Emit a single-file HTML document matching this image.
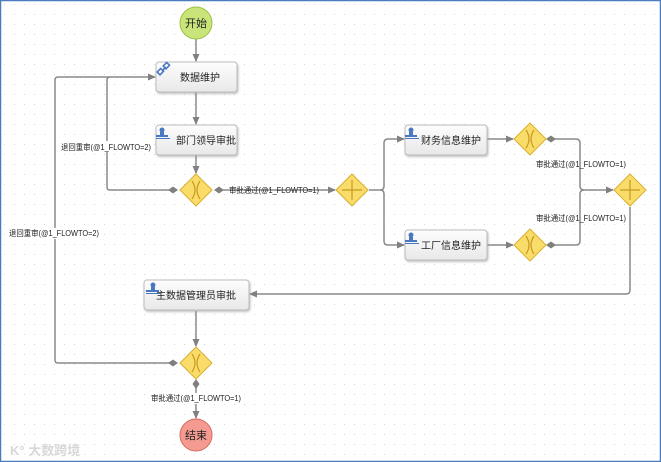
<!DOCTYPE html>
<html><head><meta charset="utf-8"><style>
html,body{margin:0;padding:0;}
body{width:661px;height:462px;overflow:hidden;background:#fff;font-family:"Liberation Sans","Noto Sans CJK SC",sans-serif;}
</style></head><body>
<svg width="661" height="462" xmlns="http://www.w3.org/2000/svg" style="display:block">
<defs>
<pattern id="dots" width="10" height="10" patternUnits="userSpaceOnUse"><rect x="4" y="4" width="1" height="1" fill="#d4d4d4"/></pattern>
<linearGradient id="box" x1="0" y1="0" x2="0" y2="1"><stop offset="0" stop-color="#fdfdfd"/><stop offset="1" stop-color="#e8e8e8"/></linearGradient>
<marker id="ar" markerWidth="8" markerHeight="8" refX="7" refY="4" orient="auto" markerUnits="userSpaceOnUse"><path d="M0,0.5 L8,4 L0,7.5z" fill="#808080"/></marker>
<filter id="sh" x="-10%" y="-10%" width="130%" height="140%"><feDropShadow dx="1" dy="1.5" stdDeviation="1" flood-color="#999" flood-opacity="0.6"/></filter>
</defs>
<rect width="661" height="462" fill="url(#dots)"/>
<rect x="0.5" y="0.5" width="660" height="461" fill="none" stroke="#4a7cc0" stroke-width="1.5"/>
<g fill="none" stroke="#8a8a8a" stroke-width="1.5">
<line x1="196" y1="39" x2="196" y2="61" marker-end="url(#ar)"/>
<line x1="196" y1="92" x2="196" y2="124" marker-end="url(#ar)"/>
<line x1="196" y1="155" x2="196" y2="173" marker-end="url(#ar)"/>
<path d="M174,190 H110 Q107,190 107,187 V80 Q107,77 110,77 H155" marker-end="url(#ar)"/>
<path d="M174,363 H58 Q55,363 55,360 V80 Q55,77 58,77 H110"/>
<line x1="218" y1="190" x2="335" y2="190" marker-end="url(#ar)"/>
<path d="M369,190 H380 Q384,190 384,186 V143 Q384,139 388,139 H404" marker-end="url(#ar)"/>
<path d="M380,190 Q384,190 384,194 V241 Q384,245 388,245 H404" marker-end="url(#ar)"/>
<line x1="487" y1="139" x2="513" y2="139" marker-end="url(#ar)"/>
<line x1="487" y1="245" x2="513" y2="245" marker-end="url(#ar)"/>
<path d="M552,139 H576 Q580,139 580,143 V186 Q580,190 584,190 H613" marker-end="url(#ar)"/>
<path d="M552,245 H576 Q580,245 580,241 V194 Q580,190 584,190"/>
<path d="M630,207 V290 Q630,294 626,294 H250" marker-end="url(#ar)"/>
<line x1="196" y1="311" x2="196" y2="346" marker-end="url(#ar)"/>
<line x1="196" y1="385" x2="196" y2="418" marker-end="url(#ar)"/>
</g>
<g fill="#808080">
<path d="M168,190 l5,-3.5 l5,3.5 l-5,3.5z"/>
<path d="M214,190 l5,-3.5 l5,3.5 l-5,3.5z"/>
<path d="M168,363 l5,-3.5 l5,3.5 l-5,3.5z"/>
<path d="M196,379 l3.5,5 l-3.5,5 l-3.5,-5z"/>
<path d="M546,139 l5,-3.5 l5,3.5 l-5,3.5z"/>
<path d="M546,245 l5,-3.5 l5,3.5 l-5,3.5z"/>
</g>
<g font-size="8" fill="#222">
<rect x="60" y="141" width="92" height="11" fill="#fff"/>
<text x="61" y="150" textLength="90" lengthAdjust="spacingAndGlyphs">退回重审(@1_FLOWTO=2)</text>
<rect x="8" y="228" width="92" height="11" fill="#fff"/>
<text x="9" y="236" textLength="90" lengthAdjust="spacingAndGlyphs">退回重审(@1_FLOWTO=2)</text>
<text x="229" y="193" textLength="90" lengthAdjust="spacingAndGlyphs">审批通过(@1_FLOWTO=1)</text>
<text x="536" y="167" textLength="90" lengthAdjust="spacingAndGlyphs">审批通过(@1_FLOWTO=1)</text>
<text x="536" y="221" textLength="90" lengthAdjust="spacingAndGlyphs">审批通过(@1_FLOWTO=1)</text>
<rect x="150" y="393" width="92" height="11" fill="#fff"/>
<text x="151" y="401" textLength="90" lengthAdjust="spacingAndGlyphs">审批通过(@1_FLOWTO=1)</text>
</g>
<circle cx="196" cy="23" r="16" fill="#c9e57a" stroke="#9cbf45"/>
<text x="196" y="27" font-size="11" text-anchor="middle" fill="#222">开始</text>
<circle cx="196" cy="435" r="16" fill="#f49a90" stroke="#d46a60"/>
<text x="196" y="439" font-size="11" text-anchor="middle" fill="#222">结束</text>
<g filter="url(#sh)" stroke="#bcbcbc" fill="url(#box)">
<rect x="156" y="62" width="81" height="30" rx="3"/>
<rect x="156" y="125" width="81" height="30" rx="3"/>
<rect x="405" y="125" width="82" height="30" rx="3"/>
<rect x="405" y="230" width="82" height="30" rx="3"/>
<rect x="144" y="280" width="105" height="30" rx="3"/>
</g>
<g font-size="10" fill="#222" text-anchor="middle">
<text x="200" y="81">数据维护</text>
<text x="206" y="144">部门领导审批</text>
<text x="451" y="144">财务信息维护</text>
<text x="451" y="249">工厂信息维护</text>
<text x="196" y="299">主数据管理员审批</text>
</g>
<g stroke="#4a78c0" stroke-width="1.6" fill="none">
<rect x="158" y="70" width="5" height="4" transform="rotate(-45 160 72)"/>
<rect x="164" y="64" width="5" height="4" transform="rotate(-45 166 66)"/>
<line x1="162" y1="71" x2="166" y2="67"/>
</g>
<g fill="#4a78c0">
<circle cx="162" cy="130" r="2.5"/><rect x="160" y="132" width="4" height="3"/><rect x="156" y="135" width="12" height="2"/><rect x="156" y="138" width="14" height="1"/>
<circle cx="411" cy="130" r="2.5"/><rect x="409" y="132" width="4" height="3"/><rect x="405" y="135" width="12" height="2"/><rect x="405" y="138" width="14" height="1"/>
<circle cx="411" cy="235" r="2.5"/><rect x="409" y="237" width="4" height="3"/><rect x="405" y="240" width="12" height="2"/><rect x="405" y="243" width="14" height="1"/>
<circle cx="153" cy="285" r="2.5"/><rect x="151" y="287" width="4" height="3"/><rect x="146" y="290" width="13" height="2"/><rect x="146" y="293" width="15" height="1"/>
</g>
<g stroke="#d9b030" fill="#f9dc6a">
<path d="M196,174 L212,190 L196,206 L180,190z"/>
<path d="M530,123 L546,139 L530,155 L514,139z"/>
<path d="M530,229 L546,245 L530,261 L514,245z"/>
<path d="M196,347 L212,363 L196,379 L180,363z"/>
<path d="M352,174 L368,190 L352,206 L336,190z"/>
<path d="M630,174 L646,190 L630,206 L614,190z"/>
</g>
<g stroke="#c89a20" stroke-width="1.2" fill="none">
<path d="M192,181 Q198,190 192,199 M200,181 Q194,190 200,199"/>
<path d="M526,130 Q532,139 526,148 M534,130 Q528,139 534,148"/>
<path d="M526,236 Q532,245 526,254 M534,236 Q528,245 534,254"/>
<path d="M192,354 Q198,363 192,372 M200,354 Q194,363 200,372"/>
<path d="M352,180 V200 M342,190 H362"/>
<path d="M630,180 V200 M620,190 H640"/>
</g>
<text x="10" y="455" font-size="13" fill="#d8d8d8" font-weight="bold">K° 大数跨境</text>
</svg>
</body></html>
